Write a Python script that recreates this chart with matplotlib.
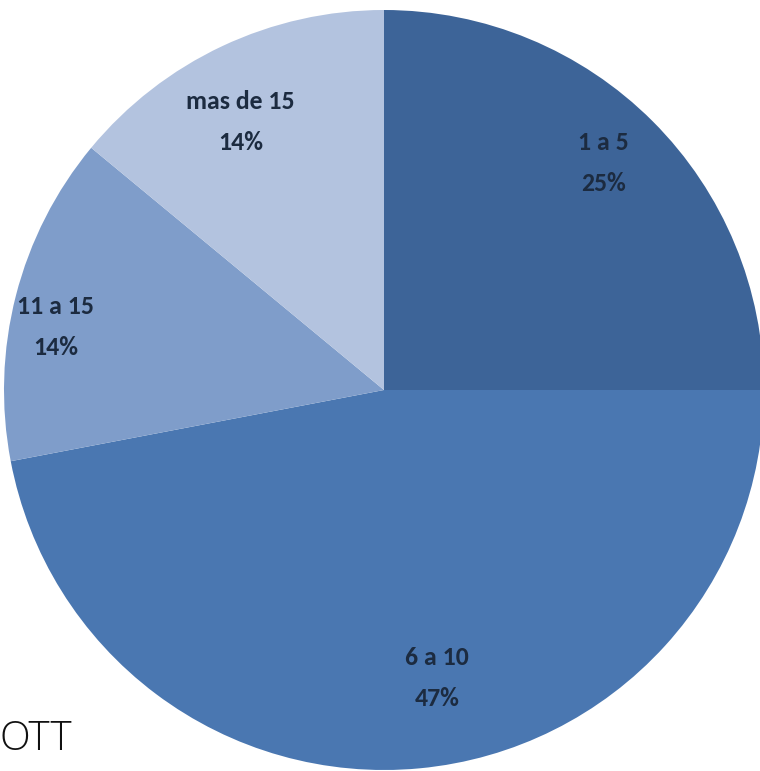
import matplotlib
matplotlib.use("Agg")
import matplotlib.pyplot as plt
import numpy as np

categories = ["1 a 5", "6 a 10", "11 a 15", "mas de 15"]
values = [25, 47, 14, 14]
colors = ["#3D6498", "#4A77B1", "#7F9DCA", "#B3C3DF"]
label_dist = [0.83, 0.77, 0.88, 0.80]
label_ang_shift = [1.0, 5.0, 3.5, 3.0]

W, H = 760, 771
cx, cy, R = 384, 390, 380

fig = plt.figure(figsize=(W / 100, H / 100), dpi=100)
ax = fig.add_axes([0, 0, 1, 1])

wedges, _ = ax.pie(values, colors=colors, startangle=90, counterclock=False,
                   radius=1.0, wedgeprops=dict(linewidth=0))
ax.set_aspect("auto")
ax.set_xlim(-cx / R, (W - cx) / R)
ax.set_ylim(-(H - cy) / R, cy / R)
ax.axis("off")

for w, cat, v, d, s in zip(wedges, categories, values, label_dist, label_ang_shift):
    ang = np.deg2rad((w.theta1 + w.theta2) / 2 + s)
    x, y = d * np.cos(ang), d * np.sin(ang)
    ax.text(x, y, f"{cat}\n{v}%", ha="center", va="center", fontsize=18.5,
            color="#1C2B40", family=["Carlito", "Lato", "DejaVu Sans"],
            fontweight="bold", linespacing=1.95)

fig.text(0 / W, 1 - 740 / H, "OTT", ha="left", va="center", fontsize=29,
         color="#111111", family=["Open Sans", "DejaVu Sans"], fontweight="light")

fig.savefig("out.png", dpi=100)
